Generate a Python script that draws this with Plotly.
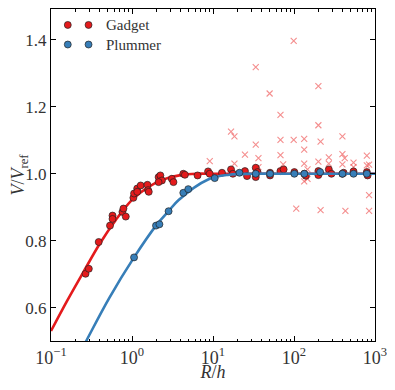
import plotly.graph_objects as go

# smooth model curves
gadget_curve_r = [0.1, 0.158, 0.251, 0.398, 0.631, 1.0, 1.585, 2.512, 3.981, 6.31, 10.0, 100.0, 1000.0]
gadget_curve_v = [0.530, 0.620, 0.706, 0.790, 0.862, 0.922, 0.960, 0.984, 0.996, 1.0, 1.0, 1.0, 1.0]
plummer_curve_r = [0.1, 0.158, 0.272, 0.525, 1.06, 1.98, 2.83, 3.74, 8.7, 15.8, 31.6, 100.0, 1000.0]
plummer_curve_v = [0.30, 0.39, 0.50, 0.629, 0.750, 0.845, 0.888, 0.921, 0.983, 0.997, 1.0, 1.0, 1.0]

# measured points
gadget_r = [0.267, 0.293, 0.388, 0.535, 0.575, 0.575, 0.762, 0.784, 0.838, 1.04, 1.06, 1.16, 1.16,
            1.28, 1.55, 1.58, 1.61, 2.13, 2.24, 2.34, 2.13, 3.1, 3.25, 4.3, 4.5, 6.45, 8.7, 9.1,
            12.9, 16.7, 17.6, 24.8, 26.3, 33.7, 35.5, 33.7, 50.6, 50.6, 68.0, 74.5, 101, 134, 140,
            200, 200, 269, 290, 396, 410, 543, 793, 810]
gadget_v = [0.701, 0.716, 0.796, 0.845, 0.875, 0.865, 0.886, 0.896, 0.872, 0.928, 0.941, 0.956, 0.946,
            0.965, 0.967, 0.951, 0.946, 0.990, 0.995, 0.980, 0.975, 0.985, 0.975, 1.0, 0.997, 0.995, 1.007, 1.0,
            1.003, 1.013, 1.0, 1.008, 0.993, 1.018, 1.005, 0.990, 1.003, 0.995, 1.008, 1.013, 1.005, 1.0, 0.994,
            1.008, 0.996, 1.013, 1.0, 1.0, 1.003, 1.007, 1.005, 0.995]
plummer_r = [1.06, 1.98, 2.18, 2.83, 4.3, 4.95, 10.5, 21.2, 33.7, 50.6, 101, 134, 210, 396, 543, 793]
plummer_v = [0.750, 0.845, 0.849, 0.888, 0.943, 0.954, 0.987, 1.003, 1.0, 1.0, 1.0, 1.0, 1.005, 1.0, 1.0, 1.0]

# scattered crosses
cross_r = [9.12, 16.7, 18.4, 18.4, 24.8, 33.7, 33.7, 36.4, 36.4, 50.0, 68.1, 68.1, 68.1, 73.5,
           99.1, 99.1, 106.6, 133.6, 133.6, 133.6, 133.6, 146.9, 146.9, 200, 200, 200, 213, 213,
           269, 269, 396, 396, 396, 423, 431, 543, 543, 793, 793, 845, 845, 845]
cross_v = [1.038, 1.126, 1.112, 1.030, 1.057, 1.319, 1.087, 1.047, 1.020, 1.240, 1.176, 1.101, 1.056, 1.028,
           1.397, 1.101, 0.896, 1.104, 1.072, 1.030, 0.977, 1.013, 0.985, 1.262, 1.145, 1.036, 1.096, 0.891,
           1.049, 1.030, 1.112, 1.059, 1.028, 1.047, 0.889, 1.033, 1.020, 1.054, 1.025, 1.027, 0.936, 0.889]

x_ticks = [0.1, 1, 10, 100, 1000]
x_labels = ['10<sup>\u22121</sup>', '10<sup>0</sup>', '10<sup>1</sup>', '10<sup>2</sup>', '10<sup>3</sup>']
y_ticks = [0.6, 0.8, 1.0, 1.2, 1.4]

RED = '#e41a1c'
BLUE = '#377eb8'
FONT = 'Liberation Serif'

fig = go.Figure()
fig.add_trace(go.Scatter(x=cross_r, y=cross_v, mode='markers',
                         marker=dict(symbol='x-thin', size=6, line=dict(color='rgba(235,50,50,0.55)', width=1.1))))
fig.add_trace(go.Scatter(x=gadget_curve_r, y=gadget_curve_v, mode='lines',
                         line=dict(color=RED, width=2.6, shape='spline', smoothing=1.0)))
fig.add_trace(go.Scatter(x=gadget_r, y=gadget_v, mode='markers',
                         marker=dict(color=RED, size=7, line=dict(color='#222', width=0.7))))
fig.add_trace(go.Scatter(x=plummer_curve_r, y=plummer_curve_v, mode='lines',
                         line=dict(color=BLUE, width=2.6, shape='spline', smoothing=1.0)))
fig.add_trace(go.Scatter(x=plummer_r, y=plummer_v, mode='markers',
                         marker=dict(color=BLUE, size=7, line=dict(color='#222', width=0.7))))

# hand-made legend with two markers per entry, like the original
leg = [('Gadget', RED, 0.952), ('Plummer', BLUE, 0.893)]
for name, col, yp in leg:
    for xp in (0.0518, 0.1159):
        fig.add_shape(type='circle', xref='paper', yref='paper',
                      x0=xp - 0.0107, x1=xp + 0.0107, y0=yp - 0.0105, y1=yp + 0.0105,
                      fillcolor=col, line=dict(color='#222', width=0.7))
    fig.add_annotation(x=0.163, y=yp, xref='paper', yref='paper', text=name, showarrow=False,
                       xanchor='left', yanchor='middle', font=dict(family=FONT, size=15, color='#333'))

# page body has an 8px margin; keep the figure inside the window so no scrollbar shows
fig.update_layout(
    width=379, height=374,
    margin=dict(l=43, r=8, t=0, b=39),
    paper_bgcolor='white', plot_bgcolor='white',
    showlegend=False,
    font=dict(family=FONT, size=17, color='#333'),
)
fig.update_xaxes(type='log', range=[-1, 3], tickmode='array', tickvals=x_ticks, ticktext=x_labels,
                 tickfont=dict(size=18), ticklabeloverflow='allow',
                 ticks='inside', ticklen=5, tickcolor='black', showline=True, linecolor='black', linewidth=1,
                 mirror='ticks', showgrid=False, zeroline=False,
                 minor=dict(dtick='D1', ticks='inside', ticklen=2.5, tickcolor='black', showgrid=False),
                 title=dict(text='<i>R</i>/<i>h</i>', standoff=2, font=dict(size=18)))
fig.update_yaxes(range=[0.5, 1.4926], tickmode='array', tickvals=y_ticks, tickformat='.1f',
                 ticks='inside', ticklen=5, tickcolor='black', showline=True, linecolor='black', linewidth=1,
                 mirror='ticks', showgrid=False, zeroline=False,
                 title=dict(text='<i>V</i>/<i>V</i><sub>ref</sub>', standoff=4, font=dict(size=18)))

fig.write_html("out.html")
